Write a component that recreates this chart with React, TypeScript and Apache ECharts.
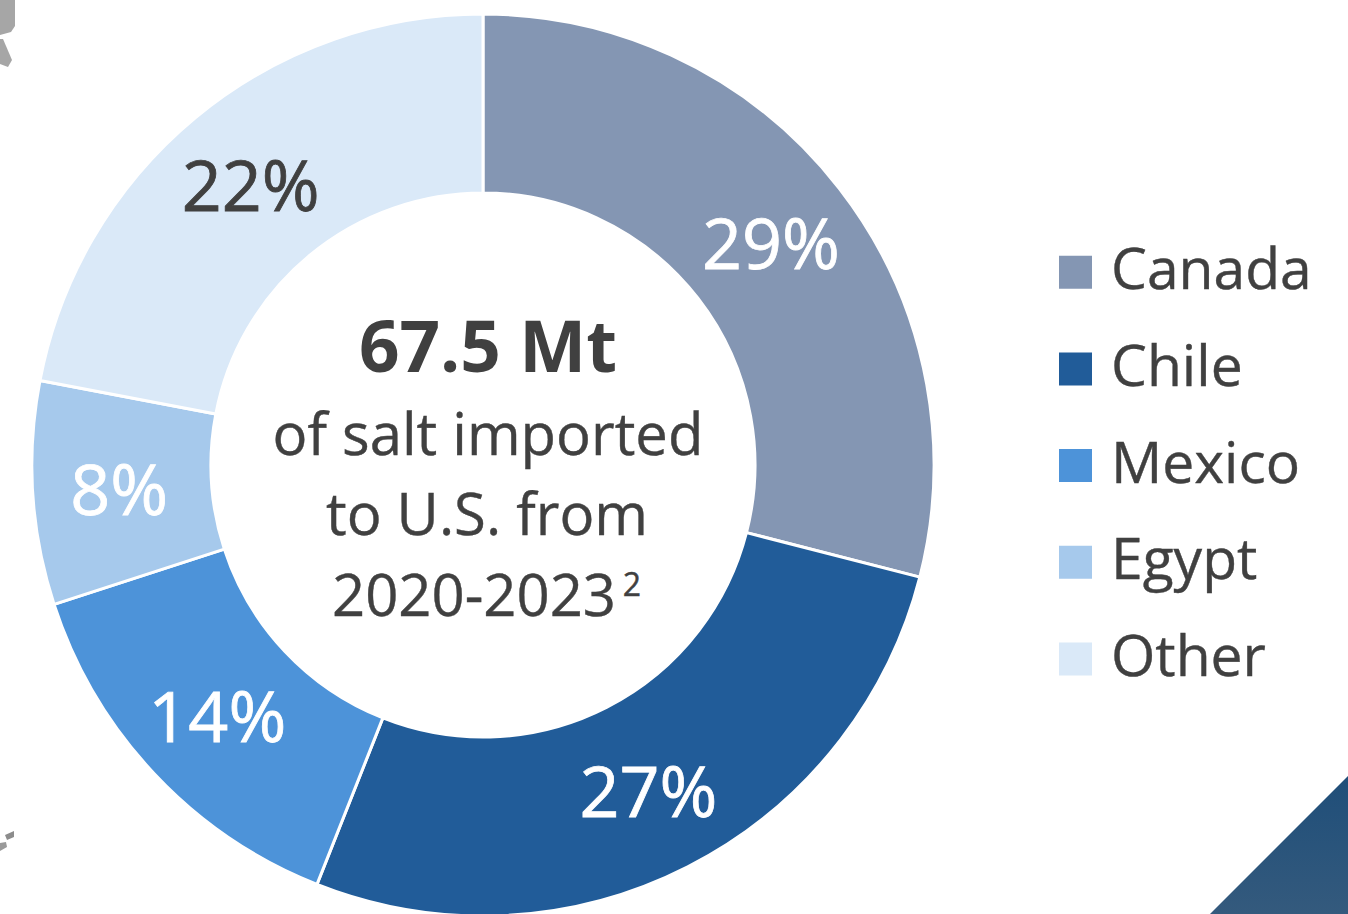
import React, { useEffect, useRef } from "react";
import * as echarts from "echarts";

const categories = ["Canada", "Chile", "Mexico", "Egypt", "Other"];
const shares = [29, 27, 14, 8, 22];
const sliceColors = ["#8496B3", "#215C99", "#4D93D9", "#A6C9EC", "#DAE9F8"];
const labelColors = ["#FFFFFF", "#FFFFFF", "#FFFFFF", "#FFFFFF", "#404040"];
const centerHeadline = "67.5 Mt";
const centerLine1 = "of salt imported";
const centerLine2 = "to U.S. from";
const centerLine3 = "2020-2023";
const footnoteMark = "2";

const FONT = "'Open Sans', sans-serif";
const DARK = "#404040";

const centerText = (text: string, x: number, y: number, fontSize: number, fontWeight = "normal") => ({
  type: "text",
  x,
  y,
  style: {
    text,
    fontFamily: FONT,
    fontSize,
    fontWeight,
    fill: DARK,
    align: "center",
    verticalAlign: "middle",
    stroke: DARK,
    lineWidth: fontWeight === "bold" ? 0 : 0.4,
  },
});

export default function App() {
  const ref = useRef<HTMLDivElement>(null);
  useEffect(() => {
    const chart = echarts.init(ref.current!, null, { renderer: "svg" });
    chart.setOption({
      animation: false,
      backgroundColor: "#FFFFFF",
      color: sliceColors,
      legend: {
        orient: "vertical",
        left: 1059,
        top: 238.5,
        padding: 0,
        icon: "rect",
        itemWidth: 33,
        itemHeight: 33,
        itemGap: 29.5,
        itemStyle: { borderWidth: 0 },
        data: categories,
        formatter: "{t|{name}}",
        textStyle: {
          rich: {
            t: {
              fontFamily: FONT,
              fontSize: 57,
              color: DARK,
              lineHeight: 72,
              padding: [0, 0, 10, 14],
              textBorderColor: DARK,
              textBorderWidth: 0.4,
            },
          },
        },
      },
      series: [
        {
          type: "pie",
          center: [483, 465],
          radius: [272, 451],
          startAngle: 90,
          clockwise: true,
          silent: true,
          itemStyle: { borderColor: "#FFFFFF", borderWidth: 3 },
          labelLine: { show: false },
          label: {
            position: "inside",
            fontFamily: FONT,
            fontSize: 70,
            formatter: "{c}%",
            padding: [4, 0, 0, 0],
          },
          data: categories.map((name, i) => ({
            name,
            value: shares[i],
            itemStyle: { color: sliceColors[i] },
            label: {
              color: labelColors[i],
              textBorderColor: labelColors[i],
              textBorderWidth: 0.8,
            },
          })),
        },
      ],
      graphic: [
        {
          type: "polygon",
          silent: true,
          shape: { points: [[1348, 776], [1348, 914], [1210, 914]] },
          style: {
            fill: new echarts.graphic.LinearGradient(0, 0, 0, 1, [
              { offset: 0, color: "#1F4E79" },
              { offset: 1, color: "#345A7D" },
            ]),
          },
        },
        {
          type: "polygon",
          silent: true,
          shape: { points: [[0, 0], [15, 0], [15, 26], [11, 32], [0, 35]] },
          style: { fill: "#A6A6A6" },
        },
        {
          type: "polygon",
          silent: true,
          shape: { points: [[0, 39], [3, 39], [12, 60], [8, 67], [0, 64]] },
          style: { fill: "#A6A6A6" },
        },
        {
          type: "polygon",
          silent: true,
          shape: { points: [[5, 835], [14, 831], [14, 837], [7, 840]] },
          style: { fill: "#8C8C8C" },
        },
        {
          type: "polygon",
          silent: true,
          shape: { points: [[0, 843], [6, 842], [7, 847], [0, 851]] },
          style: { fill: "#9A9A9A" },
        },
        centerText(centerHeadline, 488, 344, 71, "bold"),
        centerText(centerLine1, 488, 432, 58),
        centerText(centerLine2, 487, 512, 58),
        centerText(centerLine3, 474, 593, 58),
        centerText(footnoteMark, 632, 583, 32),
      ],
    });
    return () => chart.dispose();
  }, []);
  return (
    <div
      ref={ref}
      style={{ position: "fixed", left: 0, top: 0, width: 1348, height: 914 }}
    />
  );
}
